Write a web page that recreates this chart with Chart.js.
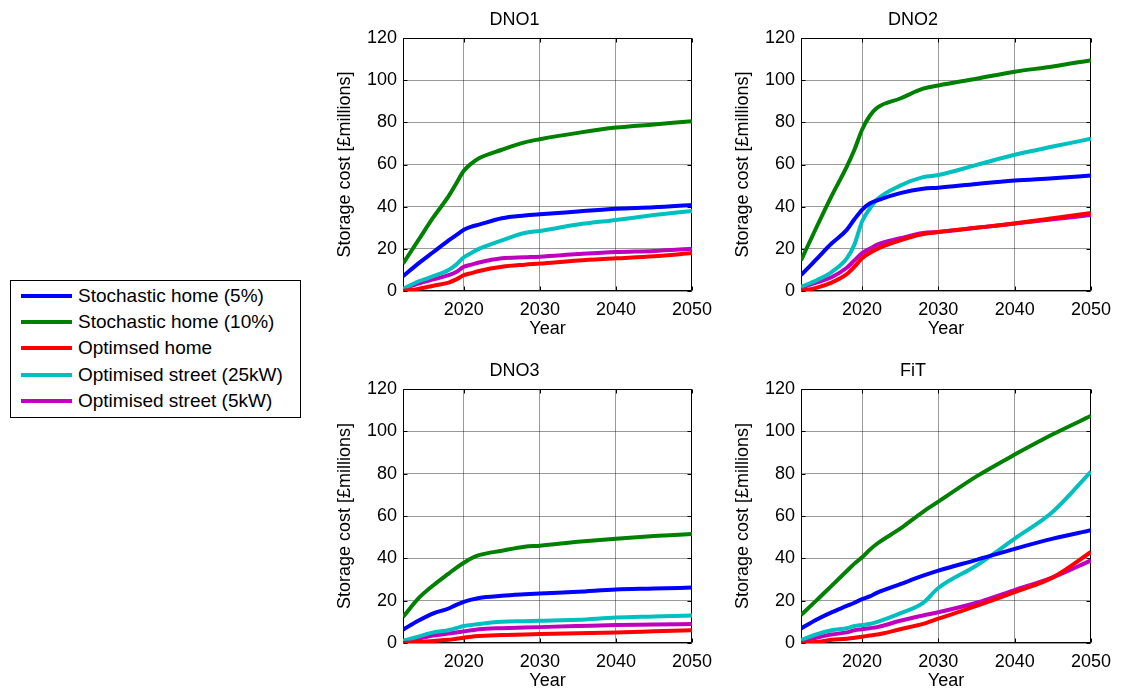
<!DOCTYPE html>
<html lang="en">
<head>
<meta charset="UTF-8">
<title>Storage cost</title>
<script src="https://cdn.jsdelivr.net/npm/chart.js"></script>
<style>
  body { margin: 0; background: #fff; width: 1131px; height: 693px; position: relative; overflow: hidden; font-family: 'Liberation Sans', Arial, sans-serif; }
  canvas { position: absolute; }
  #legend { position: absolute; left: 10px; top: 280px; width: 289px; height: 136px; border: 1px solid #000; box-sizing: content-box; }
  .item { position: absolute; left: 10px; height: 26px; display: flex; align-items: center; font-size: 19px; color: #000; white-space: nowrap; }
  .swatch { width: 51px; height: 4px; margin-right: 6px; }
</style>
</head>
<body>

<div id="legend"></div>
<canvas id="c1" width="390" height="340" style="left:330px; top:0px"></canvas>
<canvas id="c2" width="391" height="340" style="left:728px; top:0px"></canvas>
<canvas id="c3" width="390" height="341" style="left:330px; top:351px"></canvas>
<canvas id="c4" width="391" height="341" style="left:728px; top:351px"></canvas>

<script>
// values
var years = [2012, 2014, 2016, 2018, 2019, 2020, 2021, 2022, 2025, 2028, 2030, 2035, 2040, 2045, 2050];
var seriesNames = ["Stochastic home (5%)", "Stochastic home (10%)", "Optimsed home", "Optimised street (25kW)", "Optimised street (5kW)"];
var panelTitles = ["DNO1", "DNO2", "DNO3", "FiT"];
var xTicks = [2020, 2030, 2040, 2050];

var dno1Stoch5   = [7, 13, 18.5, 24, 26.5, 29, 30.5, 31.5, 34.5, 35.8, 36.4, 37.7, 39, 39.7, 40.8];
var dno1Stoch10  = [13, 24, 35, 45, 51, 57, 60.5, 63, 67, 70.5, 72, 75, 77.5, 79, 80.5];
var dno1OptHome  = [0, 1, 2.5, 4, 5.5, 7.5, 8.5, 9.5, 11.5, 12.5, 13, 14.5, 15.5, 16.5, 18];
var dno1Street25 = [1, 4.5, 7, 10, 12.5, 16, 18, 20, 24, 27.5, 28.5, 31.5, 33.7, 36, 38];
var dno1Street5  = [1, 3.5, 5.5, 7.5, 9, 11.5, 12.5, 13.5, 15.5, 16, 16.3, 17.5, 18.5, 19, 20];

var dno2Stoch5   = [7.5, 15, 22.5, 29, 34, 38.5, 41.5, 43, 46.4, 48.5, 49, 50.8, 52.4, 53.5, 54.8];
var dno2Stoch10  = [14.5, 30, 45, 59, 67, 76.5, 83, 87, 91.3, 96, 97.5, 100.7, 104, 106.5, 109.5];
var dno2OptHome  = [0, 1.5, 4, 8, 11.5, 15.5, 18, 20, 24, 27, 28, 30, 32, 34.5, 37];
var dno2Street25 = [2, 5, 9, 15.5, 22, 33, 39, 43.5, 50, 54, 55, 59.8, 64.6, 68.5, 72.2];
var dno2Street5  = [1.5, 4, 6.5, 11, 14.5, 18, 20, 22, 25, 27.5, 28, 30, 32, 34, 36];

var dno3Stoch5   = [6.3, 10.5, 14, 16.3, 18, 19.4, 20.5, 21.3, 22.3, 23, 23.4, 24.2, 25.3, 25.7, 26.2];
var dno3Stoch10  = [12.3, 21, 27.3, 32.8, 35.5, 37.9, 40, 41.5, 43.6, 45.5, 46, 47.8, 49.3, 50.5, 51.5];
var dno3OptHome  = [0, 0.5, 1, 1.5, 2, 2.5, 3, 3.3, 3.8, 4, 4.2, 4.6, 5, 5.5, 6];
var dno3Street25 = [1, 3, 5, 6, 7, 8, 8.5, 9, 10, 10.3, 10.5, 11, 12, 12.5, 13];
var dno3Street5  = [0.5, 2, 3.5, 4.5, 5, 5.5, 6, 6.5, 7, 7.3, 7.5, 8, 8.5, 8.7, 9];

var fitStoch5    = [6.8, 11, 14.5, 17.5, 19, 20.7, 22, 23.8, 27.8, 31.8, 34.2, 39.3, 44.5, 49.3, 53.3];
var fitStoch10   = [13.2, 20, 27, 34, 37.5, 40.5, 44, 47, 54, 62, 66.8, 78.7, 89, 98.6, 107.3];
var fitOptHome   = [0, 0.5, 1.5, 2, 2.5, 3, 3.5, 4, 6.5, 9, 11.5, 17.5, 24, 31, 43];
var fitStreet25  = [1.5, 4, 6, 7, 8, 8.5, 9, 10, 14, 19, 26, 36.6, 49.3, 62, 81];
var fitStreet5   = [1, 2.5, 4, 5, 6, 6.5, 7, 7.5, 10.5, 13, 14.5, 19, 25, 31, 39];

var panels = [
  [dno1Stoch5, dno1Stoch10, dno1OptHome, dno1Street25, dno1Street5],
  [dno2Stoch5, dno2Stoch10, dno2OptHome, dno2Street25, dno2Street5],
  [dno3Stoch5, dno3Stoch10, dno3OptHome, dno3Street25, dno3Street5],
  [fitStoch5, fitStoch10, fitOptHome, fitStreet25, fitStreet5]
];

var colors = ["#0000ff", "#008000", "#ff0000", "#00bfbf", "#bf00bf"];
var fontFamily = "'Liberation Sans', Arial, sans-serif";
var font = { family: fontFamily, size: 18, weight: "normal", lineHeight: 1.2 };

// legend on the left
var legend = document.getElementById("legend");
seriesNames.forEach(function (name, i) {
  var row = document.createElement("div");
  row.className = "item";
  row.style.top = (2 + i * 26.2) + "px";
  row.innerHTML = '<span class="swatch" style="background:' + colors[i] + '"></span>' + name;
  legend.appendChild(row);
});

// black box round the plot with small inward ticks, matlab style
var framePlugin = {
  id: "frame",
  beforeDatasetsDraw: function (chart) {
    var ctx = chart.ctx, a = chart.chartArea;
    var l = Math.round(a.left) + 0.5, r = Math.round(a.right) - 0.5;
    var t = Math.round(a.top) + 0.5, b = Math.round(a.bottom) - 0.5;
    ctx.save();
    ctx.strokeStyle = "#000";
    ctx.lineWidth = 1;
    ctx.beginPath();
    ctx.rect(l, t, r - l, b - t);
    chart.scales.y.ticks.forEach(function (tk) {
      var py = Math.round(chart.scales.y.getPixelForValue(tk.value)) + 0.5;
      ctx.moveTo(l, py); ctx.lineTo(l + 4, py);
      ctx.moveTo(r, py); ctx.lineTo(r - 4, py);
    });
    chart.scales.x.ticks.forEach(function (tk) {
      var px = Math.round(chart.scales.x.getPixelForValue(tk.value)) + 0.5;
      ctx.moveTo(px, b); ctx.lineTo(px, b - 4);
      ctx.moveTo(px, t); ctx.lineTo(px, t + 4);
    });
    ctx.stroke();
    ctx.restore();
  }
};

function makePanel(canvasId, title, series) {
  var datasets = series.map(function (values, i) {
    return {
      label: seriesNames[i],
      data: years.map(function (yr, k) { return { x: yr, y: values[k] }; }),
      borderColor: colors[i],
      backgroundColor: colors[i],
      borderWidth: 4,
      pointRadius: 0,
      fill: false,
      cubicInterpolationMode: "monotone"
    };
  });

  new Chart(document.getElementById(canvasId), {
    type: "line",
    data: { datasets: datasets },
    plugins: [framePlugin],
    options: {
      responsive: false,
      animation: false,
      devicePixelRatio: 1,
      layout: { padding: { left: 0, right: 21, top: 0, bottom: 0 } },
      plugins: {
        legend: { display: false },
        tooltip: { enabled: false },
        title: {
          display: true,
          text: title,
          color: "#000",
          font: font,
          padding: { top: 9.5, bottom: 6.9 }
        }
      },
      scales: {
        x: {
          type: "linear",
          min: 2012,
          max: 2050,
          afterBuildTicks: function (s) { s.ticks = xTicks.map(function (v) { return { value: v }; }); },
          afterFit: function (s) { s.height = 49; },
          ticks: {
            color: "#000",
            font: font,
            padding: 8,
            maxRotation: 0,
            autoSkip: false,
            callback: function (v) { return String(v); }
          },
          grid: { color: "rgba(0,0,0,0.4)", lineWidth: 1, drawTicks: false },
          border: { display: false },
          title: { display: true, text: "Year", color: "#000", font: font, padding: { top: 0, bottom: 0 } }
        },
        y: {
          min: 0,
          max: 120,
          afterFit: function (s) { s.width = 73; },
          ticks: { color: "#000", font: font, padding: 6, stepSize: 20 },
          grid: { color: "rgba(0,0,0,0.4)", lineWidth: 1, drawTicks: false },
          border: { display: false },
          title: { display: true, text: "Storage cost [£millions]", color: "#000", font: font, padding: { top: 4, bottom: 0 } }
        }
      }
    }
  });
}

makePanel("c1", panelTitles[0], panels[0]);
makePanel("c2", panelTitles[1], panels[1]);
makePanel("c3", panelTitles[2], panels[2]);
makePanel("c4", panelTitles[3], panels[3]);
</script>
</body>
</html>
